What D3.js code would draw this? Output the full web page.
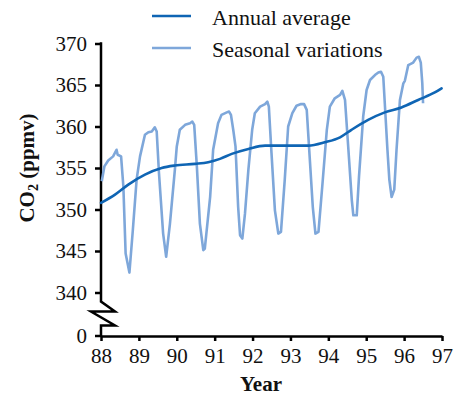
<!DOCTYPE html>
<html><head><meta charset="utf-8">
<script src="https://cdn.jsdelivr.net/npm/d3@7"></script>
<style>
html,body{margin:0;padding:0;background:#fff;}
svg{display:block;}
text{font-family:"Liberation Serif","Times New Roman",serif !important;fill:#111;}
</style></head><body>
<script>
// ---- data ----
const seasonalYears = [88.02,88.09,88.19,88.32,88.41,88.44,88.53,88.59,88.65,88.75,88.84,88.94,89.03,89.16,89.25,89.34,89.42,89.47,89.53,89.64,89.72,89.82,89.95,90.00,90.08,90.22,90.35,90.41,90.46,90.53,90.61,90.70,90.74,90.88,90.96,91.09,91.18,91.32,91.38,91.43,91.49,91.55,91.62,91.67,91.73,91.80,91.89,91.99,92.06,92.20,92.33,92.39,92.43,92.50,92.59,92.68,92.75,92.85,92.94,93.05,93.16,93.28,93.36,93.43,93.49,93.59,93.66,93.74,93.84,93.96,94.04,94.17,94.31,94.37,94.44,94.53,94.62,94.66,94.75,94.81,94.92,95.01,95.10,95.23,95.32,95.39,95.45,95.49,95.56,95.61,95.67,95.74,95.80,95.89,95.98,96.02,96.11,96.24,96.33,96.39,96.44,96.48,96.50];
const seasonalCO2 = [353.4,355.2,355.9,356.4,357.2,356.6,356.4,352.8,344.7,342.4,347.5,353.6,356.4,359.0,359.3,359.4,359.9,359.4,354.4,347.1,344.3,348.3,354.8,357.6,359.6,360.2,360.4,360.6,360.2,355.2,348.3,345.1,345.3,351.5,357.2,360.4,361.4,361.7,361.8,361.4,359.6,357.6,350.3,346.9,346.5,349.5,354.8,359.6,361.6,362.4,362.7,363.0,362.4,356.8,349.9,347.1,347.3,353.6,360.0,361.6,362.5,362.7,362.7,362.0,357.6,350.3,347.1,347.3,352.8,359.6,362.4,363.4,363.8,364.3,363.2,357.2,351.1,349.3,349.3,354.0,361.2,364.4,365.6,366.2,366.5,366.6,366.0,362.8,357.2,353.6,351.5,352.4,357.2,363.2,365.2,365.5,367.4,367.7,368.3,368.4,367.7,365.2,362.8];
const annualYears = [88.0,88.37,88.72,89.16,89.6,89.95,90.48,90.83,91.14,91.45,91.89,92.33,92.77,93.47,93.91,94.31,94.61,95.05,95.49,95.93,96.37,96.81,96.99];
const annualCO2 = [350.8,351.8,353.0,354.2,355.0,355.3,355.5,355.7,356.1,356.7,357.3,357.7,357.7,357.7,358.1,358.7,359.6,360.8,361.7,362.3,363.2,364.1,364.6];
const xTicks = [88,89,90,91,92,93,94,95,96,97];
const yTicks = [340,345,350,355,360,365,370];
const legendLabels = ["Annual average","Seasonal variations"];
const colors = ["#0f65b4","#7ea7da"];

// ---- layout ----
const W = 463, H = 396;
const xAxisY = 336;
const svg = d3.select("body").append("svg").attr("width", W).attr("height", H);
const x = d3.scaleLinear().domain([88,97]).range([101,442]);
const y = d3.scaleLinear().domain([340,370]).range([292.5,43.5]);

// y axis ticks
const yAxis = d3.axisLeft(y).tickValues(yTicks).tickSize(6).tickPadding(8).tickSizeOuter(0).tickFormat(d3.format("d"));
const gy = svg.append("g").attr("transform","translate(101,0)").call(yAxis);
gy.select(".domain").remove();
gy.selectAll(".tick line").attr("stroke","#000").attr("stroke-width",2.5);
gy.selectAll(".tick text").style("font-size","21px").attr("fill","#111");
// zero tick
const zeroG = svg.append("g").attr("transform",`translate(101,${xAxisY})`);
zeroG.append("line").attr("x1",-6).attr("x2",0).attr("stroke","#000").attr("stroke-width",2.5);
zeroG.append("text").attr("x",-14).attr("dy","0.32em").attr("text-anchor","end").style("font-size","21px").text("0");

// y axis line with break
const ax = 101, y340 = y(340);
const brk = [[ax,y(370)-1.2],[ax,y340+9],[ax+14,y340+19],[ax-10,y340+19],[ax+14,y340+33],[ax,y340+33],[ax,xAxisY]];
svg.append("path").attr("d", d3.line()(brk)).attr("fill","none").attr("stroke","#000").attr("stroke-width",2.5).attr("stroke-linejoin","miter");

// x axis
const xAxis = d3.axisBottom(x).tickValues(xTicks).tickSize(5).tickPadding(7).tickSizeOuter(0).tickFormat(d3.format("d"));
const gx = svg.append("g").attr("transform",`translate(0,${xAxisY})`).call(xAxis);
gx.select(".domain").attr("stroke","#000").attr("stroke-width",2.5);
gx.selectAll(".tick line").attr("stroke","#000").attr("stroke-width",2.5);
gx.selectAll(".tick text").style("font-size","21px").attr("fill","#111");

// lines
const seasonal = seasonalYears.map((t,i)=>[t,seasonalCO2[i]]);
const annual = annualYears.map((t,i)=>[t,annualCO2[i]]);
svg.append("path").attr("d", d3.line().x(d=>x(d[0])).y(d=>y(d[1])).curve(d3.curveLinear)(seasonal))
  .attr("fill","none").attr("stroke",colors[1]).attr("stroke-width",2.6).attr("stroke-linejoin","round");
svg.append("path").attr("d", d3.line().x(d=>x(d[0])).y(d=>y(d[1])).curve(d3.curveMonotoneX)(annual))
  .attr("fill","none").attr("stroke",colors[0]).attr("stroke-width",2.6).attr("stroke-linecap","round");

// legend
legendLabels.forEach((lab,i)=>{
  const ly = 16 + i*32;
  svg.append("line").attr("x1",152).attr("x2",191).attr("y1",ly).attr("y2",ly).attr("stroke",colors[i]).attr("stroke-width",2.6);
  svg.append("text").attr("x",212).attr("y",ly+9).style("font-size","22px").text(lab);
});

// axis titles
svg.append("text").attr("x",261).attr("y",391).attr("text-anchor","middle").style("font-size","21px").style("font-weight","bold").text("Year");
const yl = svg.append("text").attr("transform","translate(33.5,168) rotate(-90)").attr("text-anchor","middle").style("font-size","21px").style("font-weight","bold");
yl.append("tspan").text("CO");
yl.append("tspan").style("font-size","14px").attr("dy",4).text("2");
yl.append("tspan").attr("dy",-4).text(" (ppmv)");
</script>
</body></html>
